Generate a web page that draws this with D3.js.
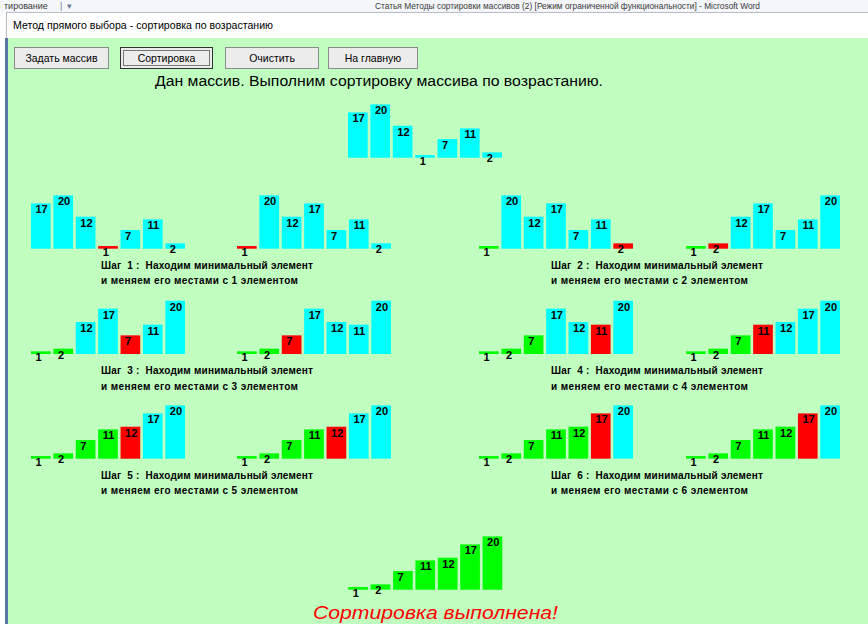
<!DOCTYPE html>
<html>
<head>
<meta charset="utf-8">
<script src="https://cdn.jsdelivr.net/npm/d3@7"></script>
<style>
  html, body { margin: 0; padding: 0; background: #ffffff; overflow: hidden; }
  svg { display: block; }
  text { white-space: pre; }
</style>
</head>
<body>
<svg id="canvas" width="868" height="624"></svg>
<script>
// colours of the three bar states
const stateColors = { u: "#00ffff", m: "#ff0000", s: "#00ff00" };

const initialValues = [17, 20, 12, 1, 7, 11, 2];
const initialStates = "uuuuuuu";

const stepNumbers = [1, 2, 3, 4, 5, 6];

const beforeValues = [
    [17, 20, 12, 1, 7, 11, 2],
    [1, 20, 12, 17, 7, 11, 2],
    [1, 2, 12, 17, 7, 11, 20],
    [1, 2, 7, 17, 12, 11, 20],
    [1, 2, 7, 11, 12, 17, 20],
    [1, 2, 7, 11, 12, 17, 20]
];
const beforeStates = ["uuumuuu", "suuuuum", "ssuumuu", "sssuumu", "ssssmuu", "sssssmu"];

const afterValues = [
    [1, 20, 12, 17, 7, 11, 2],
    [1, 2, 12, 17, 7, 11, 20],
    [1, 2, 7, 17, 12, 11, 20],
    [1, 2, 7, 11, 12, 17, 20],
    [1, 2, 7, 11, 12, 17, 20],
    [1, 2, 7, 11, 12, 17, 20]
];
const afterStates = ["muuuuuu", "smuuuuu", "ssmuuuu", "sssmuuu", "ssssmuu", "sssssmu"];

const finalValues = [1, 2, 7, 11, 12, 17, 20];
const finalStates = "sssssss";

const buttonLabels = ["Задать массив", "Сортировка", "Очистить", "На главную"];

const heading = "Дан массив. Выполним сортировку массива по возрастанию.";
const windowTitle = "Метод прямого выбора - сортировка по возрастанию";
const wordTitle = "Статья Методы сортировки массивов (2) [Режим ограниченной функциональности] - Microsoft Word";
const doneText = "Сортировка выполнена!";

const stepLine1 = n => "Шаг  " + n + " :  Находим минимальный элемент";
const stepLine2 = n => "и меняем его местами с " + n + " элементом";

const svg = d3.select("#canvas");
const font = "'Liberation Sans', Arial, sans-serif";

// ---- window chrome ----
svg.append("rect").attr("x", 0).attr("y", 0).attr("width", 868).attr("height", 12).attr("fill", "#f4f6f9");
svg.append("text").attr("x", 4).attr("y", 9).attr("font-family", font).attr("font-size", 9)
    .attr("fill", "#3a3a3a").text("тирование");
svg.append("text").attr("x", 60).attr("y", 9).attr("font-family", font).attr("font-size", 9)
    .attr("fill", "#6a7a9a").text("|  ▾");
svg.append("text").attr("x", 375).attr("y", 9).attr("font-family", font).attr("font-size", 9)
    .attr("textLength", 385).attr("lengthAdjust", "spacingAndGlyphs")
    .attr("fill", "#3a3a3a").text(wordTitle);

svg.append("rect").attr("x", 7).attr("y", 12).attr("width", 861).attr("height", 26).attr("fill", "#ffffff");
svg.append("line").attr("x1", 7).attr("x2", 868).attr("y1", 12.5).attr("y2", 12.5).attr("stroke", "#b8bcc4");
svg.append("line").attr("x1", 6.5).attr("x2", 6.5).attr("y1", 12).attr("y2", 38).attr("stroke", "#b8bcc4");
svg.append("text").attr("x", 13).attr("y", 29).attr("font-family", font).attr("font-size", 11)
    .attr("textLength", 260).attr("lengthAdjust", "spacingAndGlyphs")
    .attr("fill", "#000").text(windowTitle);

svg.append("rect").attr("x", 5).attr("y", 38).attr("width", 3).attr("height", 586).attr("fill", "#5a76a8");
svg.append("rect").attr("x", 8).attr("y", 38).attr("width", 860).attr("height", 586).attr("fill", "#c0ffc0");

// ---- buttons ----
const buttonX = [14, 120, 225, 328];
const buttonW = [95, 93, 94, 90];
const buttons = svg.append("g").selectAll("g")
    .data(buttonLabels)
    .join("g")
    .attr("transform", (d, i) => "translate(" + buttonX[i] + ",47)");

buttons.append("rect")
    .attr("x", 0.5).attr("y", 0.5)
    .attr("width", (d, i) => buttonW[i] - 1).attr("height", 21)
    .attr("fill", "#ececec")
    .attr("stroke", (d, i) => i === 1 ? "#333" : "#8a8a8a");

buttons.filter((d, i) => i === 1).append("rect")
    .attr("x", 3.5).attr("y", 3.5)
    .attr("width", buttonW[1] - 7).attr("height", 15)
    .attr("fill", "none").attr("stroke", "#000").attr("stroke-dasharray", "1,1");

buttons.append("text")
    .attr("x", (d, i) => buttonW[i] / 2).attr("y", 15)
    .attr("text-anchor", "middle")
    .attr("font-family", font).attr("font-size", 10.5)
    .attr("fill", "#000")
    .text(d => d);

svg.append("text").attr("x", 155).attr("y", 86)
    .attr("font-family", font).attr("font-size", 15.5)
    .attr("textLength", 448).attr("lengthAdjust", "spacingAndGlyphs")
    .attr("fill", "#000").text(heading);

// ---- bar arrays ----
const xScale = d3.scaleBand().domain(d3.range(7)).range([0, 154]).paddingInner(0.12);
const hScale = d3.scaleLinear().domain([0, 20]).range([0, 53.3]);

function drawArray(values, states, x0, base) {
    const g = svg.append("g").attr("transform", "translate(" + x0 + "," + base + ")");
    const bars = values.map((v, i) => ({ v: v, i: i, s: states[i] }));

    g.selectAll("rect")
        .data(bars)
        .join("rect")
        .attr("x", d => xScale(d.i))
        .attr("y", d => -hScale(d.v))
        .attr("width", xScale.bandwidth())
        .attr("height", d => hScale(d.v))
        .attr("fill", d => stateColors[d.s]);

    g.selectAll("text")
        .data(bars)
        .join("text")
        .attr("x", d => xScale(d.i) + 4.5)
        .attr("y", d => -hScale(d.v) + 10)
        .attr("font-family", font).attr("font-size", 11).attr("font-weight", "bold")
        .attr("fill", "#000")
        .text(d => d.v);
}

drawArray(initialValues, initialStates, 348, 157.7);

const rowBase = [248.7, 354, 458.7];
stepNumbers.forEach((n, k) => {
    const right = k % 2 === 1;
    const base = rowBase[Math.floor(k / 2)];
    drawArray(beforeValues[k], beforeStates[k], right ? 479 : 31, base);
    drawArray(afterValues[k], afterStates[k], right ? 686 : 237, base);

    const tx = right ? 551 : 101;
    svg.append("text").attr("x", tx).attr("y", base + 20)
        .attr("font-family", font).attr("font-size", 10).attr("font-weight", "bold")
        .attr("textLength", 212).attr("lengthAdjust", "spacing")
        .attr("fill", "#000").text(stepLine1(n));
    svg.append("text").attr("x", tx).attr("y", base + 35.5)
        .attr("font-family", font).attr("font-size", 10).attr("font-weight", "bold")
        .attr("textLength", 197).attr("lengthAdjust", "spacing")
        .attr("fill", "#000").text(stepLine2(n));
});

drawArray(finalValues, finalStates, 348.3, 589.7);

svg.append("text").attr("x", 313).attr("y", 619)
    .attr("font-family", font).attr("font-size", 19).attr("font-style", "italic")
    .attr("textLength", 245).attr("lengthAdjust", "spacingAndGlyphs")
    .attr("fill", "#ff0000").text(doneText);
</script>
</body>
</html>
